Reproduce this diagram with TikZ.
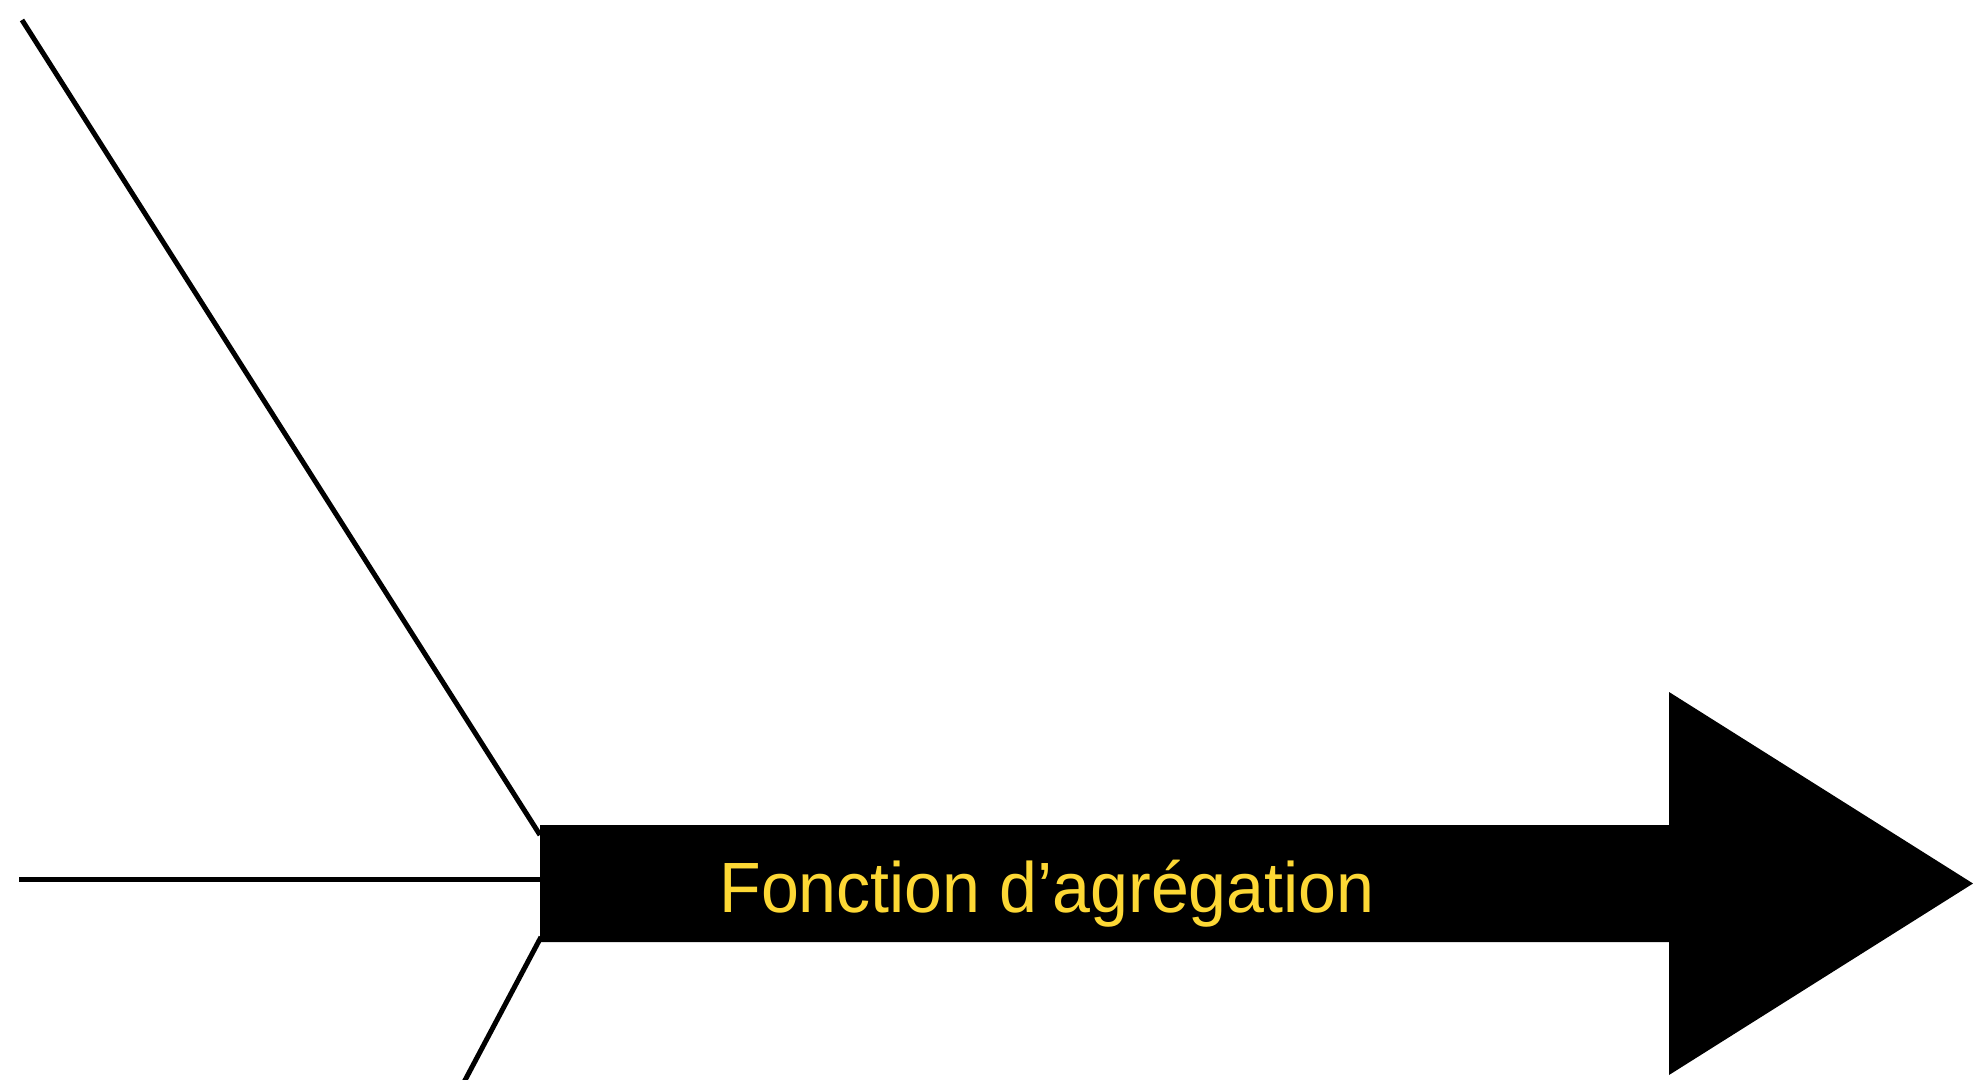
\documentclass[tikz,border=0pt]{standalone}
\usepackage{fontspec}
\setmainfont{Liberation Sans}
\definecolor{labelyellow}{RGB}{253,216,53}
\tikzset{
  bone/.style={draw=black, line width=2.5pt},
  bigarrow/.style={fill=black, draw=none},
  arrowlabel/.style={text=labelyellow, inner sep=0pt, anchor=base west, font=\fontsize{35.6pt}{40pt}\selectfont}
}
\begin{document}
\begin{tikzpicture}[x=0.5pt,y=-0.5pt]
\useasboundingbox (0,0) rectangle (1973,1080);
\clip (0,0) rectangle (1973,1080);
% arrow body
\fill[bigarrow] (540,825) -- (1669,825) -- (1669,692) -- (1973,883.5) -- (1669,1075) -- (1669,942) -- (540,942) -- cycle;
% connectors
\coordinate (t1) at (22,20);
\coordinate (t2) at (540,835);
\coordinate (m1) at (19,879);
\coordinate (m2) at (541,879);
\coordinate (b1) at (541,937);
\coordinate (b2) at (463,1084);
\draw[bone] (t1) -- (t2);
\draw[bone] (m1) -- (m2);
\draw[bone] (b1) -- (b2);
\node[arrowlabel] (lbl) at (719,912) {\scalebox{0.957}[1]{Fonction d’agrégation}};
\end{tikzpicture}
\end{document}
